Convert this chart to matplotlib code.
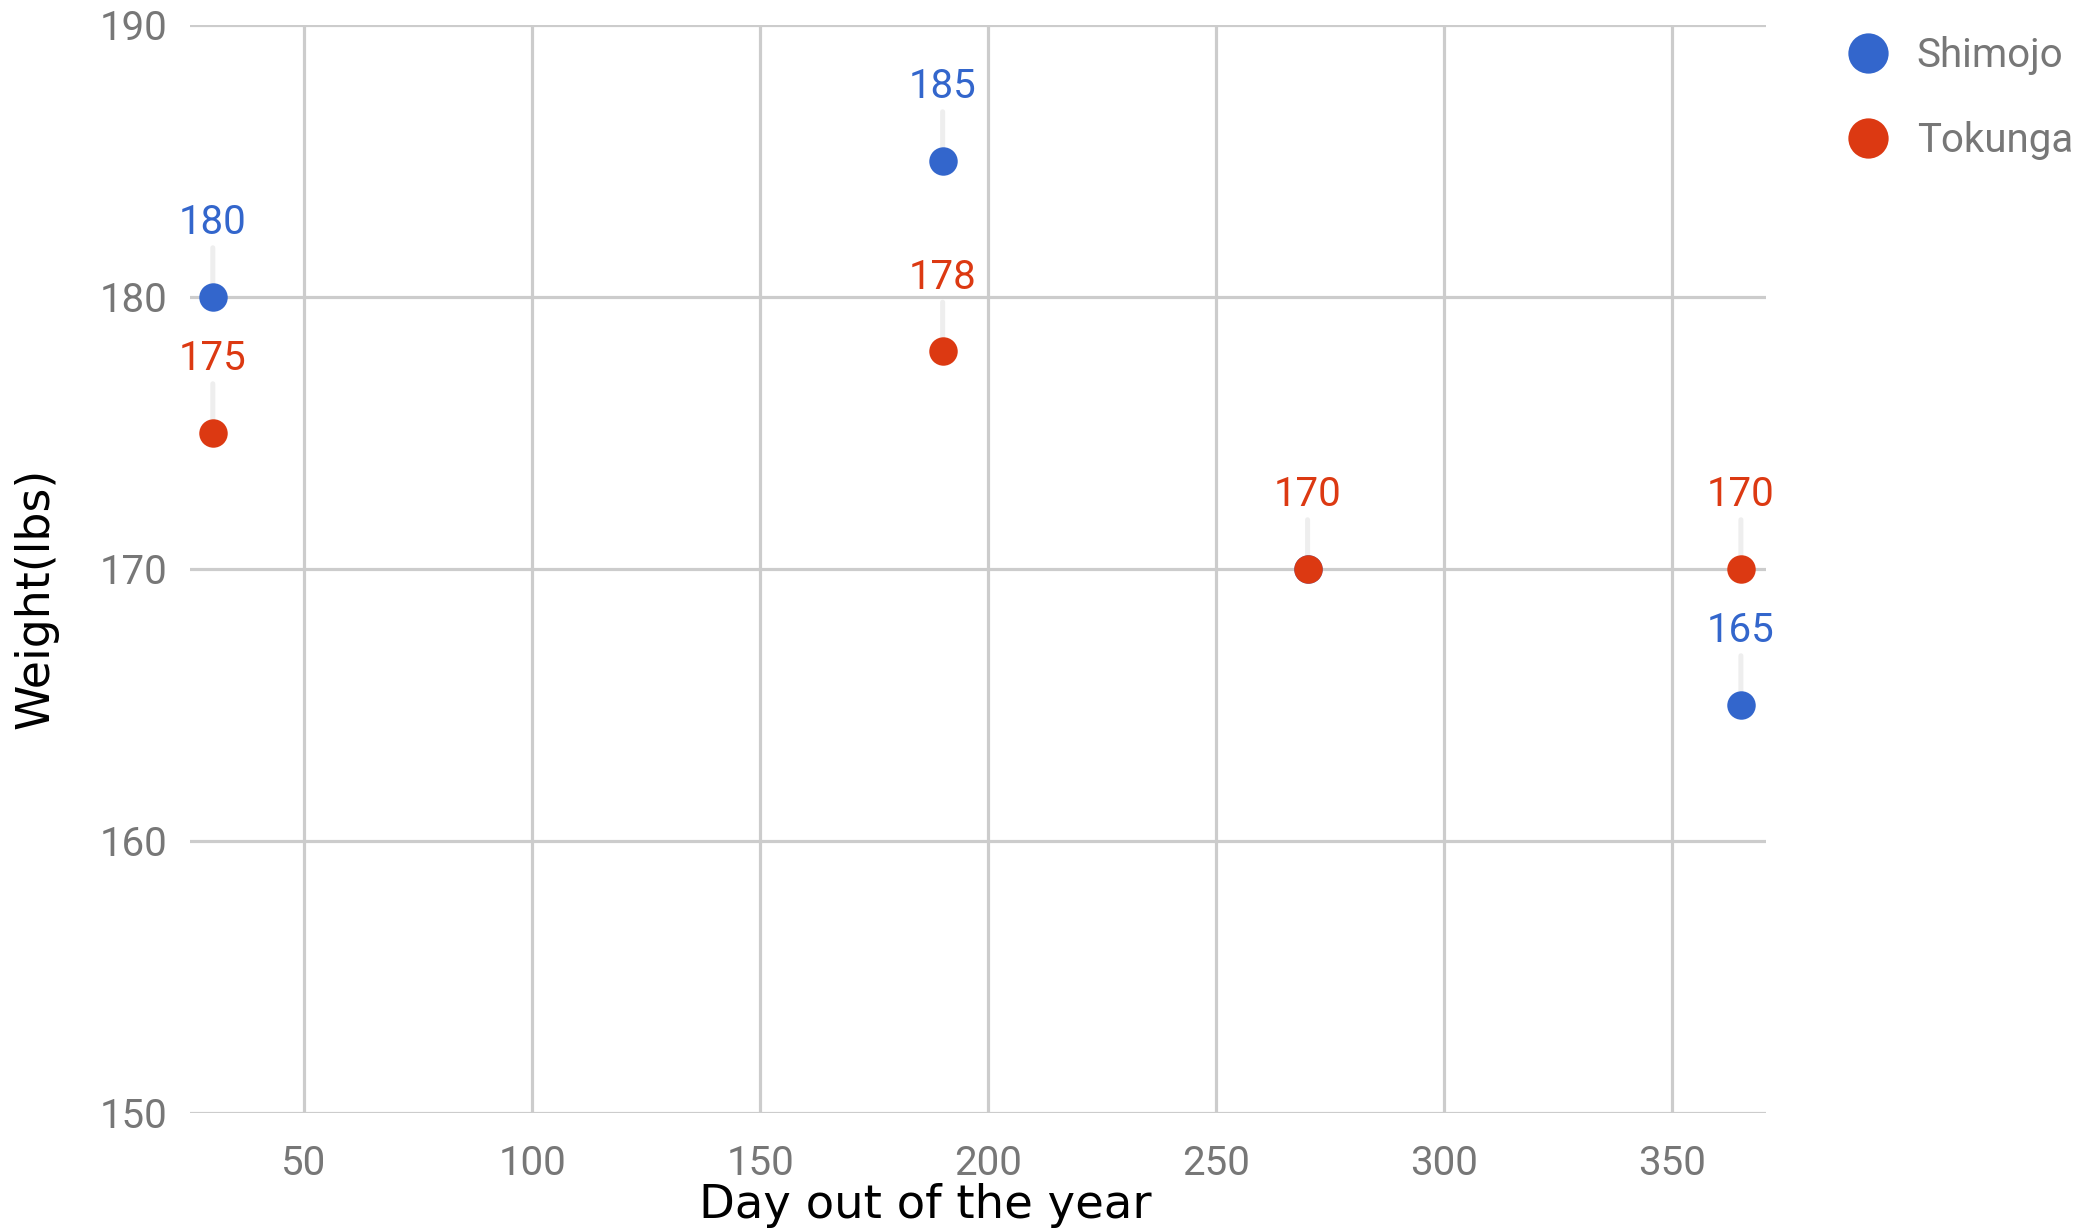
import matplotlib.pyplot as plt
from matplotlib.lines import Line2D

# data
days = [30, 190, 270, 365]
shimojo = [180, 185, 170, 165]
tokunga = [175, 178, 170, 170]
series_names = ['Shimojo', 'Tokunga']
series_colors = ['#3366cc', '#dc3912']
x_ticks = [50, 100, 150, 200, 250, 300, 350]
y_ticks = [150, 160, 170, 180, 190]

W, H = 2076, 1228
fig = plt.figure(figsize=(W / 100, H / 100), dpi=100)
left, right, top, bottom = 190, 1766, 25, 1113
ax = fig.add_axes([left / W, 1 - bottom / H, (right - left) / W, (bottom - top) / H])

all_series = [shimojo, tokunga]
for i, (vals, name, col) in enumerate(zip(all_series, series_names, series_colors)):
    ax.plot(days, vals, 'o', ms=20.5, mew=0, color=col, zorder=5 + i, label=name)
    for d, v in zip(days, vals):
        # a later series sitting on the same spot hides this label
        if any(later[days.index(d)] == v for later in all_series[i + 1:]):
            continue
        ax.annotate(str(v), (d, v), xytext=(0, 53.5), textcoords='offset points',
                    ha='center', va='center', color=col, fontsize=29,
                    family='Roboto', zorder=4,
                    arrowprops=dict(arrowstyle='-', color='#eeeeee', lw=3.6,
                                    shrinkA=2, shrinkB=0))

ax.set_xlim(25, 370.5)
ax.set_ylim(150, 190)
ax.set_xticks(x_ticks)
ax.set_yticks(y_ticks)
ax.grid(True, color='#cccccc', lw=2.3, zorder=0)
ax.set_axisbelow(True)
for s in ax.spines.values():
    s.set_visible(False)
ax.tick_params(length=0, labelsize=29, labelcolor='#777777')
ax.tick_params(axis='x', pad=22)
ax.tick_params(axis='y', pad=16)
for lab in ax.get_xticklabels() + ax.get_yticklabels():
    lab.set_family('Roboto')

fig.text(925 / W, 1 - 1218 / H, 'Day out of the year', ha='center', va='baseline',
         fontsize=33.5, family='DejaVu Sans', color='black')
fig.text(36 / W, 1 - 598 / H, 'Weight(lbs)', ha='center', va='center', rotation=90,
         fontsize=33, family='DejaVu Sans', color='black')

handles = [Line2D([], [], ls='', marker='o', ms=29, mew=0, color=c) for c in series_colors]
leg = fig.legend(handles, series_names, loc='upper left',
                 bbox_to_anchor=(1828 / W, 1 - 16 / H), frameon=False,
                 borderpad=0, handlelength=1.0, handletextpad=0.7,
                 labelspacing=1.15, prop={'family': 'Roboto', 'size': 29})
for t in leg.get_texts():
    t.set_color('#777777')

fig.savefig('out.png', dpi=100)
